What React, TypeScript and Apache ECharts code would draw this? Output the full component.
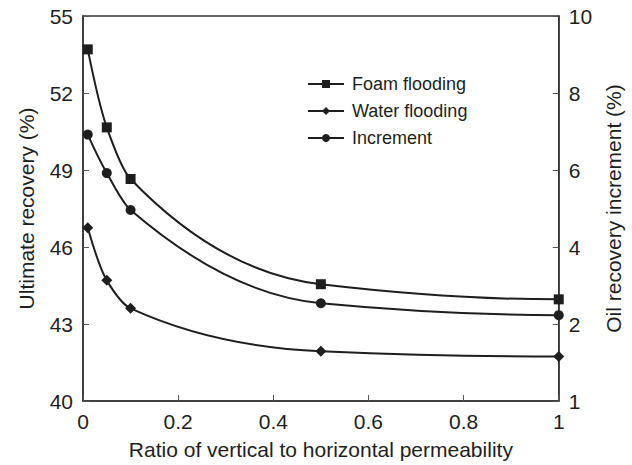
import React, { useEffect, useRef } from "react";
import * as echarts from "echarts";

const ratio = [0.01, 0.05, 0.1, 0.5, 1];
const foamFlooding = [53.7, 50.66, 48.65, 44.55, 43.96];
const waterFlooding = [46.75, 44.7, 43.61, 41.94, 41.73];
const increment = [6.92, 5.92, 4.96, 2.54, 2.23];
const leftTicks = [40, 43, 46, 49, 52, 55];

const FONT = "'Liberation Sans', Arial, Helvetica, sans-serif";
const INK = "#1e1e1e";

// Monotone cubic (Fritsch–Carlson) tangents for a smooth curve through the points
function tangents(xs: number[], ys: number[]): number[] {
  const n = xs.length;
  const h: number[] = [];
  const d: number[] = [];
  for (let k = 0; k < n - 1; k++) {
    h.push(xs[k + 1] - xs[k]);
    d.push((ys[k + 1] - ys[k]) / h[k]);
  }
  const m: number[] = new Array(n).fill(0);
  for (let k = 1; k < n - 1; k++) {
    if (d[k - 1] * d[k] <= 0) m[k] = 0;
    else {
      const w1 = 2 * h[k] + h[k - 1];
      const w2 = h[k] + 2 * h[k - 1];
      m[k] = (w1 + w2) / (w1 / d[k - 1] + w2 / d[k]);
    }
  }
  const endSlope = (h0: number, h1: number, d0: number, d1: number) => {
    let s = ((2 * h0 + h1) * d0 - h0 * d1) / (h0 + h1);
    if (s * d0 <= 0) s = 0;
    else if (d0 * d1 <= 0 && Math.abs(s) > Math.abs(3 * d0)) s = 3 * d0;
    return s;
  };
  m[0] = endSlope(h[0], h[1], d[0], d[1]);
  m[n - 1] = endSlope(h[n - 2], h[n - 3], d[n - 2], d[n - 3]);
  return m;
}

function curveSeries(name: string, ys: number[], yAxisIndex: number) {
  return {
    type: "custom" as const,
    name,
    yAxisIndex,
    z: 1,
    silent: true,
    clip: true,
    data: ratio.map((x, i) => [x, ys[i]]),
    renderItem: (params: any, api: any) => {
      if (params.dataIndex !== 0) return null;
      const m = tangents(ratio, ys);
      const p0 = api.coord([ratio[0], ys[0]]);
      let dpath = `M${p0[0]},${p0[1]}`;
      for (let k = 0; k < ratio.length - 1; k++) {
        const hk = ratio[k + 1] - ratio[k];
        const c1 = api.coord([ratio[k] + hk / 3, ys[k] + (m[k] * hk) / 3]);
        const c2 = api.coord([ratio[k + 1] - hk / 3, ys[k + 1] - (m[k + 1] * hk) / 3]);
        const e = api.coord([ratio[k + 1], ys[k + 1]]);
        dpath += ` C${c1[0]},${c1[1]} ${c2[0]},${c2[1]} ${e[0]},${e[1]}`;
      }
      return {
        type: "path",
        shape: { pathData: dpath },
        style: { fill: "none", stroke: INK, lineWidth: 2 },
      };
    },
  };
}

export default function App() {
  const ref = useRef<HTMLDivElement>(null);
  useEffect(() => {
    if (!ref.current) return;
    const chart = echarts.init(ref.current, undefined, { renderer: "svg" });
    const pairs = (ys: number[]) => ratio.map((x, i) => [x, ys[i]]);
    const markerBase = {
      type: "line" as const,
      z: 3,
      lineStyle: { color: INK, width: 0, opacity: 0 },
      itemStyle: { color: INK },
      emphasis: { disabled: true },
    };
    const axisTitle = { fontSize: 21, color: INK, fontFamily: FONT };
    const tickLabel = { fontSize: 21, color: INK, fontFamily: FONT };
    chart.setOption({
      animation: false,
      textStyle: { fontFamily: FONT },
      grid: {
        left: 83,
        right: 72,
        top: 16,
        bottom: 63,
        show: true,
        borderColor: "#333",
        borderWidth: 1.5,
        backgroundColor: "transparent",
      },
      legend: {
        orient: "vertical",
        left: 302,
        top: 70,
        itemWidth: 36,
        itemHeight: 10,
        itemGap: 9,
        lineStyle: { color: INK, width: 2, opacity: 1 },
        textStyle: { fontSize: 18, color: INK, fontFamily: FONT, padding: [0, 0, 0, 3] },
        data: ["Foam flooding", "Water flooding", "Increment"],
      },
      xAxis: {
        type: "value",
        min: 0,
        max: 1,
        interval: 0.2,
        name: "Ratio of vertical to horizontal permeability",
        nameLocation: "middle",
        nameGap: 38,
        nameTextStyle: axisTitle,
        axisLine: { lineStyle: { color: "#333", width: 1.5 } },
        axisTick: { inside: true, length: 6, lineStyle: { color: "#555" } },
        axisLabel: { ...tickLabel, margin: 10 },
        splitLine: { show: false },
      },
      yAxis: [
        {
          type: "value",
          min: 40,
          max: 55,
          name: "Ultimate recovery (%)",
          nameLocation: "middle",
          nameGap: 46,
          nameTextStyle: axisTitle,
          axisLine: { show: true, lineStyle: { color: "#333", width: 1.5 } },
          axisTick: { show: true, inside: true, length: 6, lineStyle: { color: "#555" }, customValues: leftTicks },
          axisLabel: { ...tickLabel, margin: 10, customValues: leftTicks },
          splitLine: { show: false },
        },
        {
          type: "value",
          min: 0,
          max: 10,
          interval: 2,
          position: "right",
          name: "Oil recovery increment (%)",
          nameLocation: "middle",
          nameGap: 40,
          nameTextStyle: axisTitle,
          axisLine: { show: true, lineStyle: { color: "#333", width: 1.5 } },
          axisTick: { show: true, inside: true, length: 6, lineStyle: { color: "#555" } },
          axisLabel: {
            ...tickLabel,
            margin: 10,
            formatter: (v: number) => (v === 0 ? "1" : String(v)),
          },
          splitLine: { show: false },
        },
      ],
      series: [
        curveSeries("foam-curve", foamFlooding, 0),
        curveSeries("water-curve", waterFlooding, 0),
        curveSeries("increment-curve", increment, 1),
        { ...markerBase, name: "Foam flooding", symbol: "rect", symbolSize: 10, yAxisIndex: 0, data: pairs(foamFlooding) },
        { ...markerBase, name: "Water flooding", symbol: "diamond", symbolSize: 11, yAxisIndex: 0, data: pairs(waterFlooding) },
        { ...markerBase, name: "Increment", symbol: "circle", symbolSize: 10, yAxisIndex: 1, data: pairs(increment) },
      ],
    });
    return () => chart.dispose();
  }, []);
  return <div ref={ref} style={{ position: "absolute", left: 0, top: 0, width: 632, height: 465 }} />;
}
